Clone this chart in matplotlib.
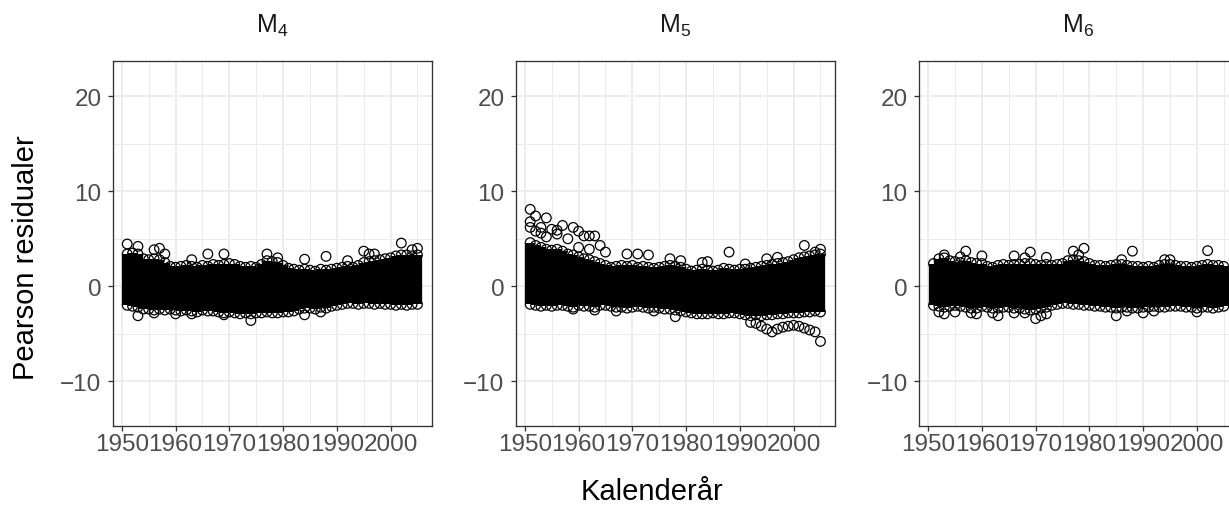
import matplotlib
import numpy as np

matplotlib.use("Agg")
import matplotlib.pyplot as plt  # noqa: E402
from matplotlib.ticker import MultipleLocator  # noqa: E402

plt.rcParams["font.family"] = ["Liberation Sans", "DejaVu Sans"]
plt.rcParams["mathtext.fontset"] = "custom"
plt.rcParams["mathtext.rm"] = "Liberation Sans"
plt.rcParams["mathtext.it"] = "Liberation Sans"

years = list(range(1951, 2006))
panel_titles = [r"M$_4$", r"M$_5$", r"M$_6$"]
x_ticks = [1950, 1960, 1970, 1980, 1990, 2000]
y_ticks = [-10, 0, 10, 20]

# dense bulk of the residuals per calendar year (upper / lower edge)
m4_upper = [3.4, 3.5, 3.4, 2.9, 2.8, 2.9, 2.8, 2.5,
            2.1, 2.0, 2.1, 2.2, 2.1, 2.0, 2.2, 2.1, 2.3, 2.2, 2.3, 2.4, 2.3, 2.1, 2.0, 2.1, 2.0, 2.3,
            2.7, 2.6, 2.5, 2.2,
            1.9, 1.8, 1.7, 1.8, 1.7, 1.6, 1.8, 1.7, 1.8, 1.9,
            2.0, 2.1, 2.0, 2.2, 2.5,
            2.6, 2.7, 2.8, 2.9, 3.0,
            3.2, 3.3, 3.3, 3.2, 3.3]
m4_lower = [-2.0, -2.1, -2.2,
            -2.4, -2.4, -2.5, -2.4, -2.5, -2.4, -2.5,
            -2.6, -2.5, -2.6, -2.7, -2.5, -2.6, -2.6, -2.7, -2.8, -2.7,
            -2.8, -2.9, -2.8, -2.9, -2.8,
            -2.8, -2.7, -2.8, -2.8, -2.7, -2.7, -2.6,
            -2.4, -2.3, -2.3, -2.4, -2.2, -2.3, -2.1, -2.0,
            -1.9, -1.8, -1.8, -1.9, -1.8, -1.8, -1.9, -1.8, -1.9, -1.9,
            -2.0, -1.9, -2.0, -1.9, -1.9]
m4_out_year = [1951, 1953, 1956, 1957, 1958, 1963, 1966, 1969, 1977, 1979, 1984, 1988,
               1992, 1995, 1996, 1997, 2002, 2004, 2005,
               1953, 1963, 1974, 1984, 1987, 1969, 1956, 1960]
m4_out_value = [4.45, 4.2, 3.85, 4.0, 3.4, 2.8, 3.4, 3.4, 3.4, 3.0, 2.85, 3.15,
                2.7, 3.7, 3.4, 3.4, 4.55, 3.85, 4.0,
                -3.1, -2.9, -3.6, -3.0, -2.7, -3.0, -2.8, -2.9]

m5_upper = [4.6, 4.3, 4.1, 3.9, 3.8, 3.9, 3.7, 3.4, 3.3, 3.1, 2.9, 2.8, 2.6, 2.4, 2.2,
            2.0, 2.1, 2.2, 2.1, 2.2, 2.0, 2.1, 2.0, 1.9, 2.0, 2.1,
            2.2, 2.1, 2.0, 1.8,
            1.6, 1.7, 1.8, 1.7, 1.6, 1.7, 1.9, 1.8, 1.7, 1.8,
            1.8, 1.9, 2.0, 2.1, 2.2,
            2.3, 2.4, 2.5, 2.6, 2.8,
            3.0, 3.1, 3.2, 3.3, 3.4]
m5_lower = [-1.9, -2.0, -2.1, -2.0, -2.1, -2.0, -2.0, -2.1, -2.2, -2.0, -2.1, -2.1, -2.2, -2.0, -2.0,
            -2.1, -2.2, -2.2, -2.3, -2.2, -2.1, -2.2, -2.3, -2.2, -2.3, -2.4, -2.4, -2.5, -2.6, -2.7,
            -2.8, -2.9, -2.9, -2.9, -2.8, -2.9, -2.9, -2.8, -2.8, -2.9,
            -3.0, -3.1, -3.0, -3.1, -3.0, -3.0, -2.9, -2.9, -2.8, -2.8, -2.8, -2.7, -2.7, -2.6, -2.7]
m5_out_year = [1951, 1951, 1951, 1952, 1953, 1954, 1955, 1956, 1957, 1959, 1960, 1961, 1962,
               1963, 1960, 1962, 1964, 1965, 1969, 1971, 1973, 1977, 1979, 1983, 1984, 1988,
               1991, 1995, 1997, 2002, 2004, 2005, 1952, 1954, 1956, 1958, 1953,
               1978, 1992, 1994, 1996, 1997, 1999, 2000, 2002, 2003, 2004, 2005, 1993, 1995,
               1998, 2001, 1959, 1963, 1967, 1974]
m5_out_value = [8.1, 6.8, 6.2, 7.4, 6.2, 7.2, 6.0, 5.9, 6.4, 6.2, 5.8, 5.3, 5.3,
                5.3, 4.1, 3.9, 4.3, 3.6, 3.4, 3.4, 3.3, 2.9, 2.7, 2.5, 2.6, 3.6,
                2.35, 2.9, 3.05, 4.3, 3.6, 3.9, 5.8, 5.2, 5.5, 5.0, 5.6,
                -3.2, -3.8, -4.2, -4.8, -4.5, -4.2, -4.1, -4.4, -4.6, -4.8, -5.8, -3.9, -4.5,
                -4.3, -4.2, -2.4, -2.5, -2.6, -2.6]

m6_upper = [2.4, 2.9, 3.0, 2.7, 2.6, 2.5, 2.7, 2.5, 2.4, 2.4, 2.1, 2.0,
            2.2, 2.3, 2.2, 2.3, 2.3, 2.4, 2.4, 2.3, 2.2, 2.3, 2.2, 2.3, 2.4,
            2.7, 2.8, 2.7, 2.6, 2.4,
            2.2, 2.2, 2.1, 2.2, 2.3, 2.3, 2.2, 2.1, 2.1, 2.0,
            2.1, 2.0, 2.2, 2.3, 2.3, 2.2, 2.1, 2.1, 2.0, 2.1, 2.2, 2.3, 2.2, 2.2, 2.1]
m6_lower = [-2.0, -2.1, -2.2, -2.1, -2.0, -2.1, -2.2, -2.3, -2.3, -2.1,
            -2.2, -2.3, -2.3, -2.2, -2.2, -2.3, -2.3, -2.4, -2.5, -2.4, -2.3, -2.2,
            -2.0, -1.9, -1.8, -1.8, -1.9, -1.9, -2.0, -2.0, -2.1, -2.1, -2.2, -2.2,
            -2.3, -2.2, -2.2, -2.3, -2.3, -2.2, -2.2, -2.1, -2.2, -2.2, -2.1,
            -2.1, -2.1, -2.2, -2.2, -2.3, -2.2, -2.2, -2.3, -2.2, -2.1]
m6_out_year = [1957, 1960, 1966, 1969, 1972, 1977, 1979, 1988, 2002, 1986, 1953, 1956,
               1968, 1978, 1994, 1995,
               1952, 1953, 1955, 1958, 1959, 1962, 1963, 1966, 1968, 1970, 1972, 1985,
               1987, 1990, 1992, 2000, 1971]
m6_out_value = [3.7, 3.2, 3.2, 3.6, 3.05, 3.7, 4.0, 3.7, 3.75, 2.8, 3.3, 3.1,
                3.0, 3.3, 2.8, 2.8,
                -2.7, -2.9, -2.7, -2.8, -2.9, -2.8, -3.1, -2.8, -2.8, -3.4, -2.9, -3.1,
                -2.6, -2.8, -2.6, -2.7, -3.1]

panels = [
    (m4_upper, m4_lower, m4_out_year, m4_out_value),
    (m5_upper, m5_lower, m5_out_year, m5_out_value),
    (m6_upper, m6_lower, m6_out_year, m6_out_value),
]

GRID = "#EBEBEB"
FRAME = "#333333"
TICK_TEXT = "#4D4D4D"
MARKER_S = 48
MARKER_LW = 0.9


def draw_panel(ax, upper, lower, out_year, out_value, title):
    ax.set_xlim(1948.3, 2007.65)
    ax.set_ylim(-14.67, 23.68)
    ax.xaxis.set_minor_locator(MultipleLocator(5))
    ax.yaxis.set_minor_locator(MultipleLocator(5))
    ax.set_xticks(x_ticks)
    ax.set_yticks(y_ticks)
    ax.set_yticklabels(["\u221210", "0", "10", "20"])
    ax.set_axisbelow(True)
    ax.grid(which="major", color=GRID, linewidth=1.25)
    ax.grid(which="minor", color=GRID, linewidth=0.7)
    ax.tick_params(which="major", length=3.6, width=0.95, color=FRAME,
                   labelsize=17.5, labelcolor=TICK_TEXT)
    ax.tick_params(axis="x", pad=2.0)
    ax.tick_params(axis="y", pad=4.5)
    ax.tick_params(which="minor", length=0)
    for spine in ax.spines.values():
        spine.set_color(FRAME)
        spine.set_linewidth(0.95)
        spine.set_zorder(5)

    # solid core of overlapping points, edged with the outermost circles
    ax.vlines(years, lower, upper, colors="black", linewidth=7.4, capstyle="butt", zorder=2)
    for edge in (upper, lower):
        ax.scatter(years, edge, s=MARKER_S, facecolors="none", edgecolors="black",
                   linewidths=MARKER_LW, zorder=3)
    ax.scatter(out_year, out_value, s=MARKER_S, facecolors="none", edgecolors="black",
               linewidths=MARKER_LW, zorder=3)

    ax.text(0.5, 1.0796, title, transform=ax.transAxes, ha="center", va="baseline",
            fontsize=18, color="#1A1A1A")


def main() -> None:
    fig = plt.figure(figsize=(12.29, 5.10), dpi=100)
    lefts = [112.7, 515.7, 919.0]
    width = 319.0
    top, bottom = 62.3, 426.7
    for left, data, title in zip(lefts, panels, panel_titles):
        ax = fig.add_axes([left / 1229, 1 - bottom / 510, width / 1229, (bottom - top) / 510])
        draw_panel(ax, *data, title)

    fig.text(652 / 1229, 1 - 500 / 510, "Kalenderår", ha="center", va="baseline", fontsize=21)
    fig.text(34 / 1229, 1 - 258 / 510, "Pearson residualer", rotation=90,
             rotation_mode="anchor", ha="center", va="baseline", fontsize=21)
    fig.savefig("out.png", dpi=100)
    plt.close(fig)


if __name__ == "__main__":
    main()
